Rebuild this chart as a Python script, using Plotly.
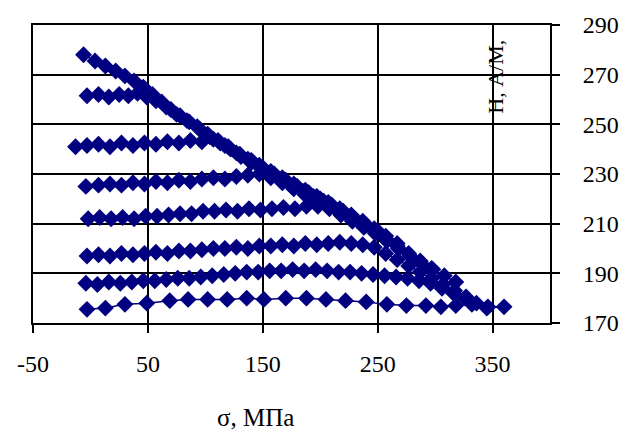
import plotly.graph_objects as go

# --- data (σ, MPa ; H, A/m) ---
s1 = [-6, 4, 13, 22, 30, 38, 46, 54, 62, 70, 78, 86, 95, 104, 113, 122, 131, 140, 149, 158, 167, 176, 185, 194, 203]
h1 = [278, 275.5, 273.5, 271.5, 269.5, 267.5, 265, 262, 259, 256, 253.5, 251, 248, 245, 242.5, 240, 237, 234.5, 232, 229.5, 227, 225, 223, 221, 219]

s2 = [-3, 7, 16, 25, 33, 41, 49, 57, 66, 75, 84, 93, 102, 111, 120, 130, 140, 150, 160, 170, 180, 190, 200, 210, 220, 230, 240, 250]
h2 = [261.5, 262, 261, 262, 261.5, 262.5, 261, 259.5, 257, 254, 251.5, 249, 246, 243.5, 241, 238, 235.5, 232.5, 230, 227.5, 225, 222.5, 220, 217.5, 215, 212, 209.5, 207]

s3 = [-13, -3, 7, 17, 27, 37, 47, 57, 67, 77, 87, 97, 107, 117, 127, 137, 147, 157, 167, 177, 187, 197, 207, 217, 227, 237, 247, 257, 267]
h3 = [241, 241.5, 242, 241, 242.5, 241.5, 242.5, 242, 243, 242.5, 243.5, 243, 244, 241.5, 238.5, 236, 233.5, 231, 228.5, 226, 223.5, 221, 218.5, 216, 213.5, 211, 208, 205, 202]

s4 = [-4, 7, 17, 27, 37, 47, 57, 67, 77, 87, 97, 107, 117, 127, 137, 147, 157, 167, 177, 187, 197, 207, 217, 227, 237, 247, 257, 267, 277, 287, 297]
h4 = [225, 225.5, 226, 225.5, 226.5, 226, 227, 226.5, 227.5, 227, 228, 228.5, 228, 229, 229.5, 230, 228.5, 226.5, 224, 221.5, 219, 217, 214.5, 212, 209.5, 207, 204, 201, 198, 195, 192]

s5 = [-2, 8, 18, 28, 38, 48, 58, 68, 78, 88, 98, 108, 118, 128, 138, 148, 158, 168, 178, 188, 198, 208, 218, 228, 238, 248, 258, 268, 278, 288, 298, 308, 318]
h5 = [212, 212.5, 212, 212.5, 212, 213, 213, 213.5, 214, 214, 215, 215, 215.5, 215, 216, 215.5, 216, 216.5, 216, 217, 217, 216, 213.5, 211, 208.5, 206, 203, 200, 197, 194, 191.5, 189, 186.5]

s6 = [-3, 7, 17, 27, 37, 47, 57, 67, 77, 87, 97, 107, 117, 127, 137, 147, 157, 167, 177, 187, 197, 207, 217, 227, 237, 247, 257, 267, 277, 287, 297, 307, 317, 327]
h6 = [197, 197.5, 197, 198, 197.5, 198, 198.5, 198, 199, 199, 199.5, 200, 200, 200.5, 200, 201, 201, 201.5, 201, 202, 201.5, 202, 202.5, 202, 201.5, 200.5, 198, 195.5, 193, 190.5, 188, 185.5, 183, 180.5]

s7 = [-4, 6, 16, 26, 36, 46, 56, 66, 76, 86, 96, 106, 116, 126, 136, 146, 156, 166, 176, 186, 196, 206, 216, 226, 236, 246, 256, 266, 276, 286, 296, 306, 316, 326, 336, 346]
h7 = [186, 185.5, 186.5, 186, 186.5, 187, 187, 187.5, 188, 188, 188.5, 189, 189.5, 190, 190.5, 190.5, 191, 191, 191.5, 191, 191.5, 191, 190.5, 190.5, 190, 189.5, 189, 188.5, 188, 187, 186, 184, 182, 180, 178, 176.5]

s8 = [-3, 13, 30, 49, 69, 85, 102, 119, 136, 151, 170, 188, 205, 222, 240, 258, 275, 292, 305, 318, 332, 345, 360]
h8 = [175.5, 176, 177.5, 178, 179, 179.5, 179.5, 179.5, 180, 179.5, 180, 180, 179.5, 179, 178.5, 177.5, 177, 177, 176.5, 177, 177.5, 176, 176.5]

series = [(s1, h1), (s2, h2), (s3, h3), (s4, h4), (s5, h5), (s6, h6), (s7, h7), (s8, h8)]

x_ticks = [-50, 50, 150, 250, 350]
y_ticks = [170, 190, 210, 230, 250, 270, 290]
x_title = "σ, МПа"
y_title = "Н, А/М,"

NAVY = "#000080"
FONT = "Liberation Serif, Times New Roman, serif"

fig = go.Figure()
for s, h in series:
    fig.add_trace(go.Scatter(
        x=s, y=h, mode="lines+markers",
        line=dict(color=NAVY, width=1.5),
        marker=dict(symbol="diamond", size=13, color=NAVY),
        showlegend=False, hoverinfo="skip",
    ))

fig.update_layout(
    width=632, height=432,
    margin=dict(l=33, r=82, t=23, b=109),
    paper_bgcolor="white", plot_bgcolor="white",
    font=dict(family=FONT, size=24, color="black"),
    showlegend=False,
)
fig.update_xaxes(
    range=[-50, 400], tickvals=x_ticks, ticktext=[str(v) for v in x_ticks],
    showgrid=True, gridcolor="black", gridwidth=2,
    showline=True, linecolor="black", linewidth=2, mirror=True,
    ticks="outside", ticklen=8, tickwidth=2, tickcolor="black",
    ticklabelstandoff=10, zeroline=False,
)
fig.update_yaxes(
    range=[170, 290], tickvals=y_ticks, ticktext=[str(v) for v in y_ticks],
    side="right",
    showgrid=True, gridcolor="black", gridwidth=2,
    showline=True, linecolor="black", linewidth=2, mirror=True,
    ticks="outside", ticklen=8, tickwidth=2, tickcolor="black",
    ticklabelstandoff=18, zeroline=False,
)
fig.add_annotation(
    text=x_title, xref="paper", yref="paper", x=(255 - 33) / 517, y=-(418 - 323) / 300,
    showarrow=False, font=dict(family=FONT, size=25, color="black"),
    xanchor="center", yanchor="middle",
)
fig.add_annotation(
    text=y_title, xref="paper", yref="paper", x=(496 - 33) / 517, y=(323 - 75) / 300,
    showarrow=False, textangle=-90, font=dict(family=FONT, size=22, color="black"),
    xanchor="center", yanchor="middle",
)

fig.write_html("out.html")
